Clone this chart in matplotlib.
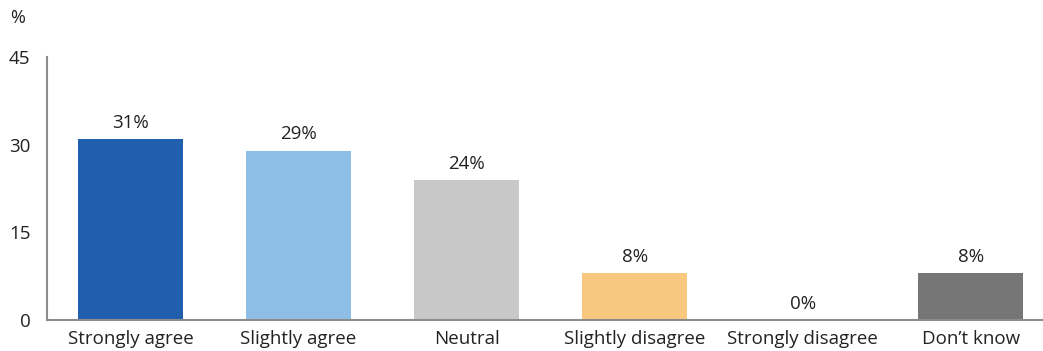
import matplotlib
matplotlib.use("Agg")
from matplotlib import pyplot as plt

categories = ["Strongly agree", "Slightly agree", "Neutral",
              "Slightly disagree", "Strongly disagree", "Don\u2019t know"]
values = [31, 29, 24, 8, 0, 8]
colors = ["#1f5fad", "#8ebee6", "#c8c8c8", "#f9c880", "#ffffff", "#767676"]
yticks = [0, 15, 30, 45]

plt.rcParams['font.family'] = ['Open Sans', 'DejaVu Sans']

fig = plt.figure(figsize=(10.43, 3.51), dpi=100)
ax = fig.add_axes([47 / 1043, 31 / 351, 1 - 47 / 1043, 263 / 351])

x = range(len(categories))
ax.bar(x, values, width=0.625, color=colors)
for i, v in zip(x, values):
    ax.text(i, v + 1.2, f"{v}%", ha="center", va="bottom", fontsize=13.5, color="#222222")

ax.set_xlim(-0.497, 5.43)
ax.set_ylim(0, 45)
ax.set_yticks(yticks)
ax.set_xticks(list(x))
ax.set_xticklabels(categories)
ax.tick_params(axis="both", length=0, labelsize=13.5, colors="#222222")
ax.tick_params(axis="x", pad=7)
ax.tick_params(axis="y", pad=12)

for s in ["top", "right"]:
    ax.spines[s].set_visible(False)
for s in ["left", "bottom"]:
    ax.spines[s].set_color("#8c8c8c")
    ax.spines[s].set_linewidth(1.5)

fig.text(10 / 1043, 1 - 18 / 351, "%", ha="left", va="center", fontsize=13, color="#222222")

fig.savefig("out.png", dpi=100)
